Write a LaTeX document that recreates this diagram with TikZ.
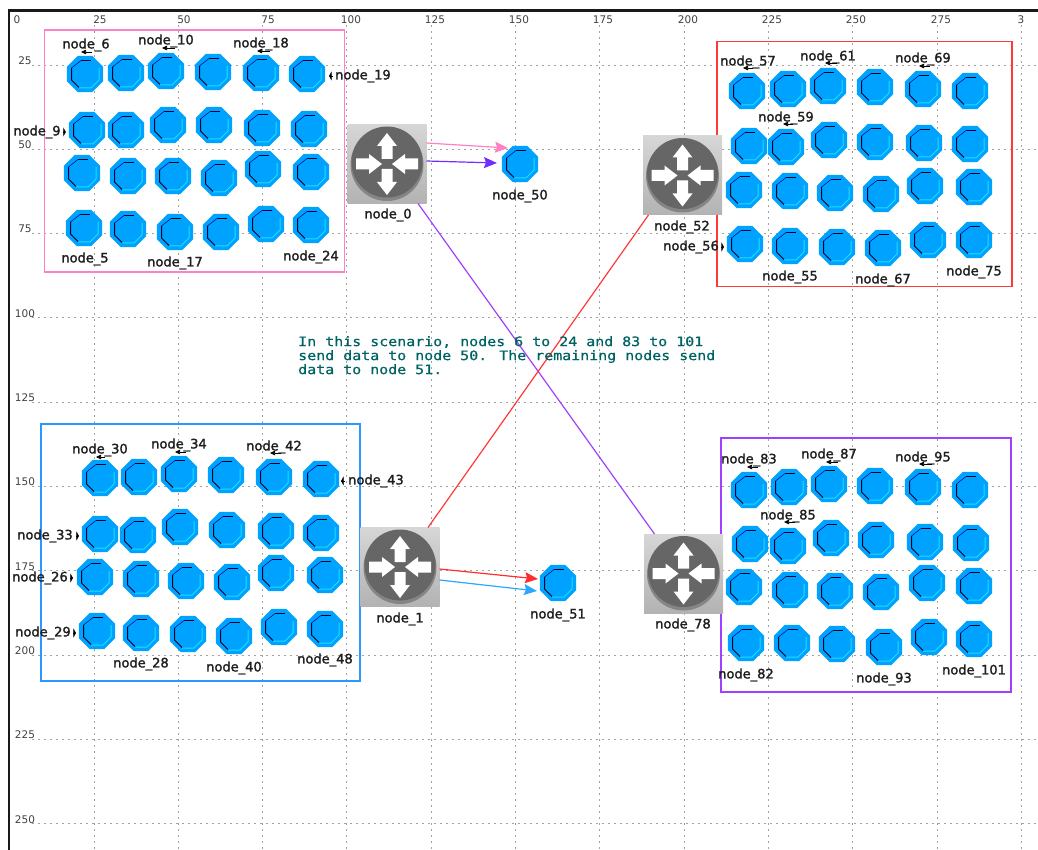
\documentclass[tikz,border=0pt]{standalone}
\usepackage{fontspec}
\usetikzlibrary{arrows.meta,shapes.geometric}
\newfontfamily\labelfont[FakeBold=1.8]{DejaVu Sans}
\newfontfamily\axisfont{DejaVu Sans}
\newfontfamily\notefont[FakeBold=0.6]{DejaVu Sans Mono}
\definecolor{hostblue}{HTML}{00A2FF}
\definecolor{hostedge}{HTML}{1CE0FF}
\definecolor{pinkline}{HTML}{FF80C4}
\definecolor{purpleline}{HTML}{A040FF}
\definecolor{redline}{HTML}{FF3838}
\definecolor{blueline}{HTML}{2F96FF}
\definecolor{skyline}{HTML}{2AA8FF}
\definecolor{noteteal}{HTML}{006262}
\tikzset{
  host/.style={regular polygon, regular polygon sides=8, minimum size=39pt, inner sep=0pt,
    outer sep=0pt, fill=hostblue, path picture={
      \begin{scope}[shift={(path picture bounding box.center)}]
        \draw[hostedge, line width=1pt] (-6,14) -- (6,14) -- (14,6) -- (14,-6);
        \draw[black!85!blue, line width=1pt] (-4,-13.5) -- (6,-13.5);
        \draw[black!85!blue, line width=1pt] (-13.5,-6) -- (-13.5,6) -- (-6,13.5);
        \draw[black!50!blue, line width=.5pt] (-13.5,-6) -- (-4,-13.5);
      \end{scope}}},
  router/.style={rectangle, minimum size=79pt, inner sep=0pt, outer sep=0pt,
    top color=black!16, bottom color=black!30, path picture={
      \begin{scope}[shift={(path picture bounding box.center)}]
        \fill[black!48] (0,0.5) circle (36.5);
        \fill[black!60] (0,-2) circle (35.5);
        \begin{scope}[yshift=2pt]
          \fill[white] (-5.5,-5) -- (-5.5,-18) -- (-10,-18) -- (0,-31)
            -- (10,-18) -- (5.5,-18) -- (5.5,-5) -- cycle;
          \fill[white] (-5.5,5) -- (-5.5,18) -- (-10,18) -- (0,31)
            -- (10,18) -- (5.5,18) -- (5.5,5) -- cycle;
          \fill[white] (-31,-5.5) -- (-18,-5.5) -- (-18,-10) -- (-5,0)
            -- (-18,10) -- (-18,5.5) -- (-31,5.5) -- cycle;
          \fill[white] (31,-5.5) -- (18,-5.5) -- (18,-10) -- (5,0)
            -- (18,10) -- (18,5.5) -- (31,5.5) -- cycle;
        \end{scope}
      \end{scope}}},
  hostlabel/.style={font=\labelfont\fontsize{13}{13}\selectfont, text=black!88, inner sep=0pt},
  axislabel/.style={font=\axisfont\fontsize{10.5}{10.5}\selectfont, text=black!75, inner sep=0pt},
  gridline/.style={black!36, line width=.9pt, dash pattern=on 2pt off 4pt},
  groupbox/.style={line width=1.3pt},
  toptick/.style={-{Triangle[length=5pt,width=4.5pt]}, line width=.6pt, black},
  sidetick/.style={-{Triangle[length=2.5pt,width=9pt]}, line width=.6pt, black},
}

\begin{document}
\begin{tikzpicture}[x=1pt, y=-1pt, >={Stealth[length=13pt,width=11pt,inset=2pt]}]
  \useasboundingbox (0,0) rectangle (1038,850);

  % Grid
  \foreach \x in {94,178.3,262.6,346.9,431.2,515.5,599.8,684.1,768.4,852.7,937,1021.3}
    \draw[gridline] (\x,25) -- (\x,850);
  \foreach \y in {65,149.3,233.6,317.9,402.2,486.5,570.8,655.1,739.4,823.7}
    \draw[gridline] (32,\y) -- (1038,\y);

  % Frame
  \draw[line width=2.5pt, black!90] (9,850) -- (9,10.5) -- (1038,10.5);

  % Axis numbers
  \foreach \x/\t in {17/0,100/25,184/50,268/75,351/100,435/125,519/150,603/175,688/200,772/225,856/250,941/275,1021/3}
    \node[axislabel] (top\t) at (\x,19.5) {\t};
  \foreach \y/\t in {60.5/25,144.5/50,229/75,313.5/100,397.5/125,482/150,566.5/175,650.5/200,735/225,819.5/250}
    \node[axislabel] (left\t) at (25,\y) {\t};

  % Boxes round the groups
  \draw[groupbox, pinkline] (44.7,30) rectangle (344.7,272);
  \draw[groupbox, redline] (717,41.7) rectangle (1012,286.7);
  \draw[groupbox, blueline] (41,424) rectangle (360,681);
  \draw[groupbox, purpleline] (721,438) rectangle (1011,692);

  % Hosts
  \foreach \x/\y [count=\i] in {85/74,126/73,166/71,213/72,261/73,307/74,
      87/130,126/130,168/125,214/125,262/128,309/129,
      82/173,128/176,173/176,219/178,263/169,311/172,
      84/228,128/229,175/232,221/232,266/224,311/225,
      747/91,788/89,828/86,875/87,923/89,970/91,
      749/146,786/147,829/140,875/142,924/143,970/144,
      744/190,790/191,835/193,881/194,925/186,974/187,
      745/244,790/246,837/247,883/248,928/240,974/240,
      100/478,139/477,179/474,226/475,274/477,321/479,
      100/534,138/535,180/527,227/530,276/531,321/533,
      95/577,141/579,186/581,232/582,276/573,325/575,
      97/631,141/633,188/634,234/636,279/627,325/629,
      749/490,789/487,829/484,875/486,923/487,970/490,
      750/544,788/546,831/538,876/540,925/542,971/543,
      744/587,790/590,835/591,881/592,927/583,974/586,
      746/643,792/643,837/644,884/647,929/637,974/639}
    \node[host] (h\i) at (\x,\y) {};

  % Sinks and routers
  \node[host] (node_50) at (520,164) {};
  \node[host] (node_51) at (558,583) {};
  \node[router] (node_0) at (387,164) {};
  \node[router] (node_1) at (400,567) {};
  \node[router] (node_52) at (682.5,175.5) {};
  \node[router] (node_78) at (683.5,573.5) {};

  % Labels
  \foreach \n/\x/\y in {6/86/45,10/166/41,18/261/44,19/363/76,9/37/132,5/85/259,17/175/263,24/311/257,
      57/748/62,61/828/57,69/923/59,59/786/118,56/691/247,55/790/277,67/883/280,75/974/272,
      30/100/450,34/179/445,42/274/447,43/376/481,33/45/536,26/40/578,29/43/633,28/141/664,40/234/668,48/325/660,
      83/749/460,87/829/455,95/923/458,85/788/516,82/746/675,93/884/679,101/974/671,
      0/388/215,50/520/196,52/682/227,1/400/619,51/558/615,78/683/625}
    \node[hostlabel] (l\n) at (\x,\y) {node\_\n};

  % Small marks at the labels
  \foreach \n/\a/\b/\d in {6/6/-5/7,10/9/-4/7,18/9/-4/7,57/5/-5/6,61/9/-3/6,69/7/-4/7,59/7/-3/6,
      30/5/-4/7,34/7/-4/7,42/7/-4/6,83/9/-2/7,87/9/-3/7,95/9/-4/6,85/7/-4/6}
    \draw[toptick] ([shift={(\a,\d)}]l\n.center) -- ([shift={(\b,\d)}]l\n.center);
  \foreach \n/\s/\a/\b in {19/west/-2/-6,43/west/-3/-7,9/east/2/5,56/east/2/5,33/east/3/6,26/east/2/5,29/east/2/5}
    \draw[sidetick] ([xshift=\a pt]l\n.\s) -- ([xshift=\b pt]l\n.\s);

  % Flows
  \draw[->, line width=1.2pt, pinkline] ([shift={(0,-21)}]node_0.east) -- ([shift={(6,-16)}]node_50.west);
  \draw[->, line width=1.2pt, purpleline!70!blue] ([shift={(0,-3)}]node_0.east) -- ([shift={(-5,-1)}]node_50.west);
  \draw[->, line width=1.2pt, redline!80!red] ([shift={(0,2)}]node_1.east) -- ([shift={(-2,-4)}]node_51.west);
  \draw[->, line width=1.2pt, skyline] ([shift={(0,13)}]node_1.east) -- ([shift={(-3,8)}]node_51.west);
  \draw[line width=1.2pt, purpleline] ([xshift=31pt]node_0.south) -- ([xshift=-29pt]node_78.north);
  \draw[line width=1.2pt, redline] ([xshift=28pt]node_1.north) -- ([xshift=-34pt]node_52.south);

  % Note
  \node[anchor=north west, inner sep=0pt, align=left, text=noteteal,
        font=\notefont\fontsize{13}{14}\selectfont, xscale=1.15] (note) at (298,336)
    {In this scenario, nodes 6 to 24 and 83 to 101\\
     send data to node 50. The remaining nodes send\\
     data to node 51.};
\end{tikzpicture}
\end{document}
